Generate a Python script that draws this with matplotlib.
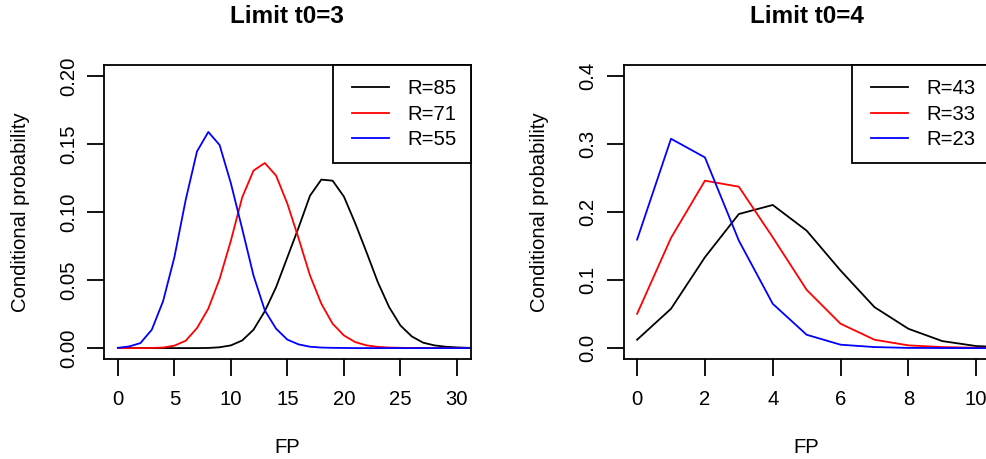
import matplotlib
matplotlib.use("Agg")
import matplotlib.pyplot as plt
from matplotlib.legend_handler import HandlerLine2D
from matplotlib.lines import Line2D
from matplotlib.ticker import FormatStrFormatter

plt.rcParams["font.family"] = ["Liberation Sans", "DejaVu Sans"]

# Left panel: limit t0=3
fp_left = list(range(0, 33))
p_r85 = [0.0, 0.0, 0.0, 0.0, 0.0, 0.0, 0.0, 0.0, 0.0001, 0.0006, 0.002,
         0.0056, 0.0135, 0.0271, 0.0448, 0.0668, 0.0888, 0.112, 0.1238,
         0.123, 0.1113, 0.0917, 0.0704, 0.0484, 0.0301, 0.0166, 0.0086,
         0.004, 0.002, 0.001, 0.0005, 0.0002, 0.0001]
p_r71 = [0.0, 0.0, 0.0, 0.0001, 0.0004, 0.0018, 0.0054, 0.0147, 0.029,
         0.0508, 0.079, 0.1108, 0.1304, 0.136, 0.1267, 0.106, 0.0803,
         0.0533, 0.0326, 0.0179, 0.0093, 0.0044, 0.002, 0.0009, 0.0004,
         0.0002, 0.0001, 0.0, 0.0, 0.0, 0.0, 0.0, 0.0]
p_r55 = [0.0002, 0.0012, 0.0037, 0.0135, 0.0345, 0.0668, 0.1089, 0.1445,
         0.1588, 0.1492, 0.121, 0.0876, 0.0533, 0.0277, 0.0142, 0.0062,
         0.0027, 0.001, 0.0004, 0.0002, 0.0001, 0.0, 0.0, 0.0, 0.0, 0.0,
         0.0, 0.0, 0.0, 0.0, 0.0, 0.0, 0.0]

# Right panel: limit t0=4
fp_right = list(range(0, 12))
p_r43 = [0.0123, 0.0578, 0.1335, 0.197, 0.2103, 0.1726, 0.114, 0.0602,
         0.0284, 0.0103, 0.003, 0.001]
p_r33 = [0.0504, 0.162, 0.246, 0.2372, 0.1628, 0.0856, 0.0358, 0.0123,
         0.004, 0.0015, 0.0005, 0.0002]
p_r23 = [0.1594, 0.3076, 0.2802, 0.158, 0.0651, 0.0196, 0.005, 0.0015,
         0.0003, 0.0001, 0.0, 0.0]

left_labels = ["R=85", "R=71", "R=55"]
right_labels = ["R=43", "R=33", "R=23"]
colors = ["black", "red", "blue"]

FS = 14.6       # axis text size
FS_TITLE = 17.5  # bold panel titles


def style_axes(ax, xticks, yticks, yfmt, xlim, ylim, title):
    ax.set_xlim(*xlim)
    ax.set_ylim(*ylim)
    ax.set_xticks(xticks)
    ax.set_yticks(yticks)
    ax.yaxis.set_major_formatter(FormatStrFormatter(yfmt))
    for side in ["top", "right", "bottom", "left"]:
        ax.spines[side].set_linewidth(1.3)
    ax.tick_params(axis="both", direction="out", length=12, width=1.3,
                   labelsize=FS, top=False, right=False)
    ax.tick_params(axis="x", pad=10)
    ax.tick_params(axis="y", pad=7)
    for lab in ax.get_yticklabels():
        lab.set_rotation(90)
        lab.set_verticalalignment("center")
    ax.set_xlabel("FP", fontsize=FS, va="center")
    ax.xaxis.set_label_coords(0.5, -0.3)
    ax.set_ylabel("Conditional probability", fontsize=FS, va="center")
    ax.yaxis.set_label_coords(-0.23, 0.5)
    ax.set_title(title, fontsize=FS_TITLE, fontweight="bold", pad=30)


def add_legend(ax):
    leg = ax.legend(loc="upper right", fontsize=FS, frameon=True,
                    fancybox=False, edgecolor="black", framealpha=1,
                    borderaxespad=0, handlelength=2.06, handletextpad=0.89,
                    borderpad=0.7, labelspacing=0.32,
                    handler_map={Line2D: HandlerLine2D(xpad=0.24)})
    leg.get_frame().set_linewidth(1.3)


fig = plt.figure(figsize=(9.86, 4.59), dpi=100)

ax1 = fig.add_axes([0.1058, 0.2179, 0.3714, 0.6405])
for vals, lab, col in zip([p_r85, p_r71, p_r55], left_labels, colors):
    ax1.plot(fp_left, vals, color=col, lw=1.3, label=lab)
style_axes(ax1, [0, 5, 10, 15, 20, 25, 30], [0, 0.05, 0.10, 0.15, 0.20],
           "%.2f", (-1.2, 31.2), (-0.008, 0.208), "Limit t0=3")
add_legend(ax1)

ax2 = fig.add_axes([0.6324, 0.2179, 0.3714, 0.6405])
for vals, lab, col in zip([p_r43, p_r33, p_r23], right_labels, colors):
    ax2.plot(fp_right, vals, color=col, lw=1.3, label=lab)
style_axes(ax2, [0, 2, 4, 6, 8, 10], [0, 0.1, 0.2, 0.3, 0.4],
           "%.1f", (-0.4, 10.4), (-0.016, 0.416), "Limit t0=4")
add_legend(ax2)

fig.savefig("out.png", dpi=100)
